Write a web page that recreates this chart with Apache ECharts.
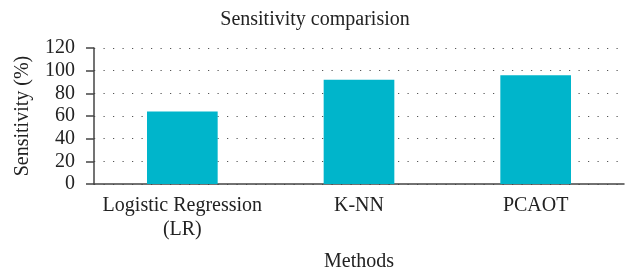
<!DOCTYPE html>
<html>
<head>
<meta charset="utf-8">
<script src="https://cdn.jsdelivr.net/npm/echarts@6/dist/echarts.min.js"></script>
<style>
  html, body { margin: 0; padding: 0; background: #fff; }
  #chart { width: 630px; height: 271px; }
</style>
</head>
<body>
<div id="chart"></div>
<script>
const methods = ['Logistic Regression\n(LR)', 'K-NN', 'PCAOT'];
const sensitivity = [64, 92, 96];
const yTicks = { min: 0, max: 120, step: 20 };

const font = 'Liberation Serif';
const chart = echarts.init(document.getElementById('chart'));
chart.setOption({
  animation: false,
  title: {
    text: 'Sensitivity comparision',
    left: 'center',
    top: 5,
    textStyle: { fontFamily: font, fontSize: 20, fontWeight: 'normal', color: '#222' }
  },
  grid: { left: 94, right: 6, top: 48, bottom: 87, outerBoundsMode: 'none' },
  xAxis: {
    type: 'category',
    data: methods,
    name: 'Methods',
    nameLocation: 'middle',
    nameGap: 68,
    nameTextStyle: { fontFamily: font, fontSize: 20, color: '#222' },
    axisLine: { lineStyle: { color: '#444', width: 1.5 } },
    axisTick: { show: false },
    axisLabel: { interval: 0, fontFamily: font, fontSize: 20, color: '#222', margin: 10, lineHeight: 24 }
  },
  yAxis: {
    type: 'value',
    min: yTicks.min,
    max: yTicks.max,
    interval: yTicks.step,
    name: 'Sensitivity (%)',
    nameLocation: 'middle',
    nameGap: 61,
    nameTextStyle: { fontFamily: font, fontSize: 20, color: '#222' },
    axisLine: { show: true, lineStyle: { color: '#444', width: 1.5 } },
    axisTick: { show: true, length: 8, lineStyle: { color: '#444', width: 1.5 } },
    axisLabel: { fontFamily: font, fontSize: 20, color: '#222', margin: 19 },
    splitLine: { lineStyle: { color: '#555', width: 1.2, type: [1.2, 8.3] } }
  },
  series: [{
    type: 'bar',
    data: sensitivity,
    barWidth: '40%',
    itemStyle: { color: '#00B5CB' }
  }]
});
</script>
</body>
</html>
